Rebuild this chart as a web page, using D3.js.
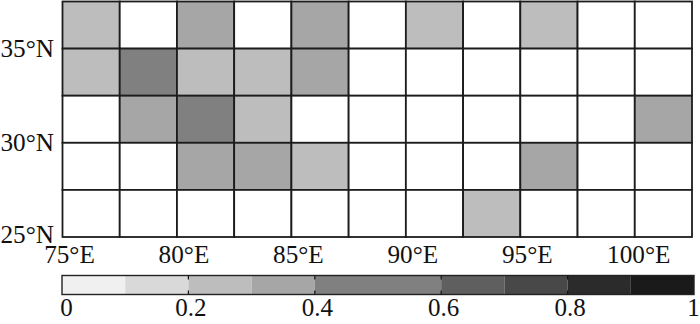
<!DOCTYPE html>
<html>
<head>
<meta charset="utf-8">
<script src="https://cdn.jsdelivr.net/npm/d3@7"></script>
<style>
html, body { margin: 0; padding: 0; background: #fff; }
svg { display: block; }
</style>
</head>
<body>
<div id="chart"></div>
<script>
// cell edges, 2.5 degree boxes
var lonEdges = [75, 77.5, 80, 82.5, 85, 87.5, 90, 92.5, 95, 97.5, 100];
var latEdges = [35, 32.5, 30, 27.5, 25];

// fraction per box, top row first, null = no colour
var row35 = [0.25, null, 0.35, null, 0.35, null, 0.25, null, 0.25, null, null];
var row325 = [0.25, 0.45, 0.25, 0.25, 0.35, null, null, null, null, null, null];
var row30 = [null, 0.35, 0.45, 0.25, null, null, null, null, null, null, 0.35];
var row275 = [null, null, 0.35, 0.35, 0.25, null, null, null, 0.35, null, null];
var row25 = [null, null, null, null, null, null, null, 0.25, null, null, null];
var rows = [row35, row325, row30, row275, row25];

var lonTicks = [75, 80, 85, 90, 95, 100];
var latTicks = [35, 30, 25];
var barTicks = [0, 0.2, 0.4, 0.6, 0.8, 1];

var barSteps = [0.1, 0.2, 0.3, 0.4, 0.5, 0.6, 0.7, 0.8, 0.9];
var barGreys = ["#f0f0f0", "#d9d9d9", "#bdbdbd", "#a6a6a6", "#808080", "#808080", "#5f5f5f", "#484848", "#2b2b2b", "#1a1a1a"];

var width = 700, height = 324;
var squeeze = 0.97; // map labels are a bit narrow in the original
var svg = d3.select("#chart").append("svg").attr("width", width).attr("height", height);

var x = d3.scaleLinear().domain([75, 102.5]).range([62.5, 692]);
var y = d3.scaleLinear().domain([25, 37.5]).range([237, 1.5]);
var colour = d3.scaleThreshold().domain(barSteps).range(barGreys);
var barX = d3.scaleLinear().domain([0, 1]).range([62, 694]);

// grid boxes
rows.forEach(function(row, i) {
    svg.append("g").selectAll("rect")
        .data(row)
        .enter().append("rect")
        .attr("x", function(d, j) { return x(lonEdges[j]); })
        .attr("y", y(latEdges[i] + 2.5))
        .attr("width", x(77.5) - x(75))
        .attr("height", y(25) - y(27.5))
        .attr("fill", function(d) { return d === null ? "#fff" : colour(d); })
        .attr("stroke", "#1c1c1c")
        .attr("stroke-width", 1.8);
});

// axes, only the labels are visible
var xAxis = d3.axisBottom(x)
    .tickValues(lonTicks)
    .tickSize(0)
    .tickFormat(function(d) { return d + "°E"; });
var gx = svg.append("g")
    .attr("transform", "translate(0,237)")
    .call(xAxis);
gx.select(".domain").remove();
gx.selectAll("text")
    .attr("y", 0)
    .attr("dy", 26)
    .attr("dx", function(d) { return (d === 100 ? 3.5 : 6.5) / squeeze; })
    .attr("transform", "scale(" + squeeze + ",1)")
    .style("font-size", "26px");

var yAxis = d3.axisLeft(y)
    .tickValues(latTicks)
    .tickSize(0)
    .tickFormat(function(d) { return d + "°N"; });
var gy = svg.append("g")
    .attr("transform", "translate(54,0)")
    .call(yAxis);
gy.select(".domain").remove();
gy.selectAll("text")
    .attr("x", 0)
    .attr("dy", function(d) { return d === 25 ? 5 : 8; })
    .attr("transform", "scale(" + squeeze + ",1)")
    .style("font-size", "26px");

// colour bar
var barTop = 275.5, barH = 19;
var barEdges = [0].concat(barSteps);
svg.append("g").selectAll("rect")
    .data(barGreys)
    .enter().append("rect")
    .attr("x", function(d, i) { return barX(barEdges[i]); })
    .attr("y", barTop)
    .attr("width", barX(0.1) - barX(0))
    .attr("height", barH)
    .attr("fill", function(d) { return d; });
svg.append("rect")
    .attr("x", barX(0))
    .attr("y", barTop)
    .attr("width", barX(1) - barX(0))
    .attr("height", barH)
    .attr("fill", "none")
    .attr("stroke", "#222")
    .attr("stroke-width", 1.4);

var barAxis = d3.axisBottom(barX)
    .tickValues(barTicks)
    .tickSize(0)
    .tickFormat(function(d) { return d; });
var gb = svg.append("g")
    .attr("transform", "translate(0," + (barTop + barH) + ")")
    .call(barAxis);
gb.select(".domain").remove();
gb.selectAll("text")
    .attr("y", 0)
    .attr("dy", 21.5)
    .attr("dx", function(d) { return d === 0 ? 4 : d === 1 ? -1 : 2; })
    .style("font-size", "25px");

// little tick dashes at top and bottom of the bar
[barTop, barTop + barH - 4].forEach(function(t) {
    svg.append("g").selectAll("line")
        .data(barTicks.slice(1, 5))
        .enter().append("line")
        .attr("x1", function(d) { return barX(d); })
        .attr("x2", function(d) { return barX(d); })
        .attr("y1", t)
        .attr("y2", t + 4)
        .attr("stroke", "#111")
        .attr("stroke-width", 1.2);
});

svg.selectAll("text")
    .style("font-family", "'Liberation Serif', 'Times New Roman', serif")
    .style("fill", "#111");
</script>
</body>
</html>
